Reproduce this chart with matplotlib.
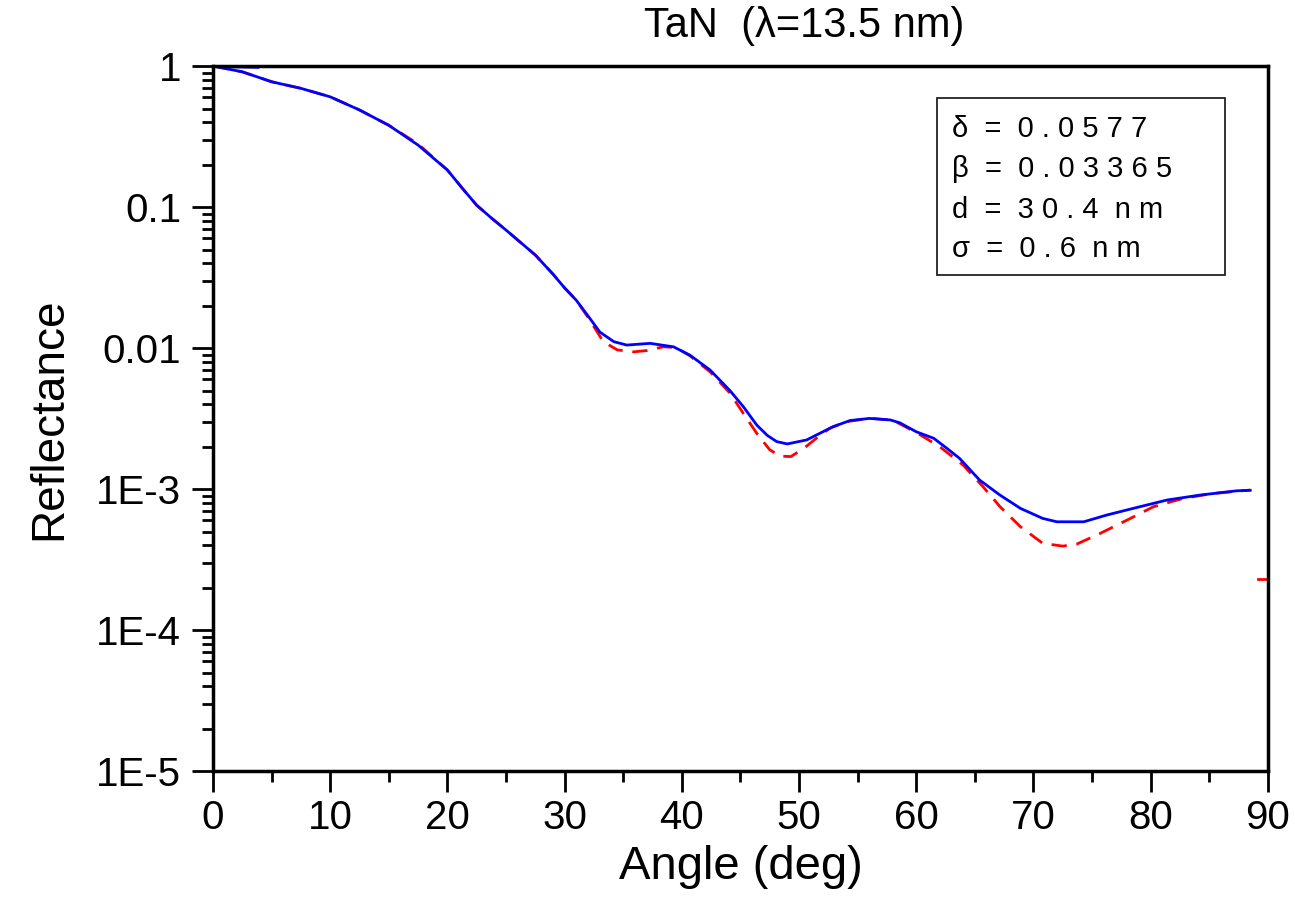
import matplotlib
matplotlib.use("Agg")
import matplotlib.pyplot as plt
from matplotlib.ticker import FixedLocator, FuncFormatter, MultipleLocator, LogLocator, NullFormatter
from matplotlib.patches import Rectangle

plt.rcParams['font.family'] = ['Liberation Sans', 'DejaVu Sans']

# blue solid curve
blue_ang = [0, 2.5, 5, 7.5, 10, 12.5, 15, 17.5, 20, 21.3, 22.5, 23.8, 25, 27.5, 29, 30,
            31, 32, 33, 34.2, 35.3, 37.3, 39.3, 40.7, 42.4, 44.1, 45.25, 46.4, 47.3,
            48.1, 49, 50.65, 52.9, 54.35, 56, 57.8, 58.6, 60, 61.5, 62.6, 63.7, 65.4,
            67.15, 68.9, 70.8, 72, 74.3, 76.25, 78.5, 81.4, 84.2, 87.35, 88.5]
blue_ref = [1.0, 0.91, 0.774, 0.695, 0.605, 0.488, 0.38, 0.275, 0.183, 0.135, 0.103,
            0.083, 0.0687, 0.0457, 0.0335, 0.0267, 0.0218, 0.0169, 0.013, 0.0111,
            0.0105, 0.0108, 0.0102, 0.0089, 0.0070, 0.0050, 0.00384, 0.00284,
            0.00240, 0.00217, 0.00209, 0.00223, 0.00277, 0.00306, 0.00317, 0.00309,
            0.00295, 0.00255, 0.00229, 0.00195, 0.00165, 0.00116, 0.000906,
            0.000729, 0.000619, 0.000586, 0.000586, 0.000654, 0.000729, 0.000836,
            0.000906, 0.000972, 0.00098]

# red dashed curve
red_ang = [0, 2.5, 5, 7.5, 10, 12.5, 15, 17.5, 20, 21.3, 22.5, 23.8, 25, 27.5, 29, 30,
           31, 32, 33.3, 34.5, 35.9, 37, 38.4, 39.5, 40.7, 42.4, 44.1, 45.25, 46.4,
           47.5, 48.4, 49.3, 50.4, 51.5, 52.6, 54, 56, 58, 60, 62, 64, 65.7, 67.15,
           68.9, 70.8, 72.5, 73.7, 75.7, 78, 80.25, 82.8, 85.3, 88.5]
red_ref = [1.0, 0.91, 0.774, 0.695, 0.605, 0.488, 0.38, 0.28, 0.183, 0.135, 0.103,
           0.083, 0.0687, 0.0457, 0.0335, 0.0267, 0.0218, 0.0165, 0.0111, 0.0097,
           0.0094, 0.0096, 0.0102, 0.0101, 0.0088, 0.0068, 0.0048, 0.00344, 0.00248,
           0.00190, 0.00171, 0.00170, 0.00194, 0.0023, 0.00269, 0.0030, 0.00318,
           0.00308, 0.00252, 0.0020, 0.00148, 0.00104, 0.00075, 0.00054, 0.000412,
           0.000394, 0.000407, 0.000485, 0.000603, 0.00075, 0.00086, 0.00093,
           0.000984]

# small stray pieces visible in the picture
blue_spike_ang = [0, 3.8]
blue_spike_ref = [1.0, 0.985]
red_tail_ang = [89.2, 89.9]
red_tail_ref = [0.000229, 0.000229]

ytick_vals = [1, 0.1, 0.01, 1e-3, 1e-4, 1e-5]
ytick_text = ['1', '0.1', '0.01', '1E-3', '1E-4', '1E-5']
xtick_vals = list(range(0, 91, 10))

params = ['\u03b4  =  0 . 0 5 7 7',
          '\u03b2  =  0 . 0 3 3 6 5',
          'd  =  3 0 . 4  n m',
          '\u03c3  =  0 . 6  n m']

fig = plt.figure(figsize=(12.95, 9.05), dpi=100)
ax = fig.add_axes([0.1645, 0.148, 0.8145, 0.779])

ax.plot(red_ang, red_ref, color='red', lw=2, dashes=(5.5, 3.5))
ax.plot(red_tail_ang, red_tail_ref, color='red', lw=2)
ax.plot(blue_ang, blue_ref, color='blue', lw=2)
ax.plot(blue_spike_ang, blue_spike_ref, color='blue', lw=2.5)

ax.set_yscale('log')
ax.set_xlim(0, 90)
ax.set_ylim(1e-5, 1)

ax.xaxis.set_major_locator(FixedLocator(xtick_vals))
ax.xaxis.set_minor_locator(MultipleLocator(5))
ax.yaxis.set_major_locator(FixedLocator(ytick_vals))
ax.yaxis.set_major_formatter(FuncFormatter(lambda v, p: ytick_text[ytick_vals.index(min(ytick_vals, key=lambda t: abs(t - v) / t))]))
ax.yaxis.set_minor_locator(LogLocator(base=10, subs=range(2, 10)))
ax.yaxis.set_minor_formatter(NullFormatter())

ax.tick_params(axis='both', which='major', direction='out', length=15, width=2,
               labelsize=29, top=False, right=False)
ax.tick_params(axis='both', which='minor', direction='out', length=8, width=2,
               top=False, right=False)
ax.tick_params(axis='y', which='major', pad=8)
ax.tick_params(axis='x', which='major', pad=5)

for s in ax.spines.values():
    s.set_linewidth(2.5)

ax.set_xlabel('Angle (deg)', fontsize=34, labelpad=6)
ax.set_ylabel('Reflectance', fontsize=33, labelpad=18)

fig.text(0.621, 0.959, 'TaN  (\u03bb=13.5 nm)', fontsize=30, ha='center', va='baseline')

ax.add_patch(Rectangle((0.686, 0.7035), 0.273, 0.2515, transform=ax.transAxes,
                       fill=False, edgecolor='#222222', lw=1.3))
for txt, yy in zip(params, [0.8997, 0.8421, 0.7840, 0.7295]):
    ax.text(0.701, yy, txt, transform=ax.transAxes, fontsize=21, va='baseline', ha='left')

fig.savefig('out.png', dpi=100)
